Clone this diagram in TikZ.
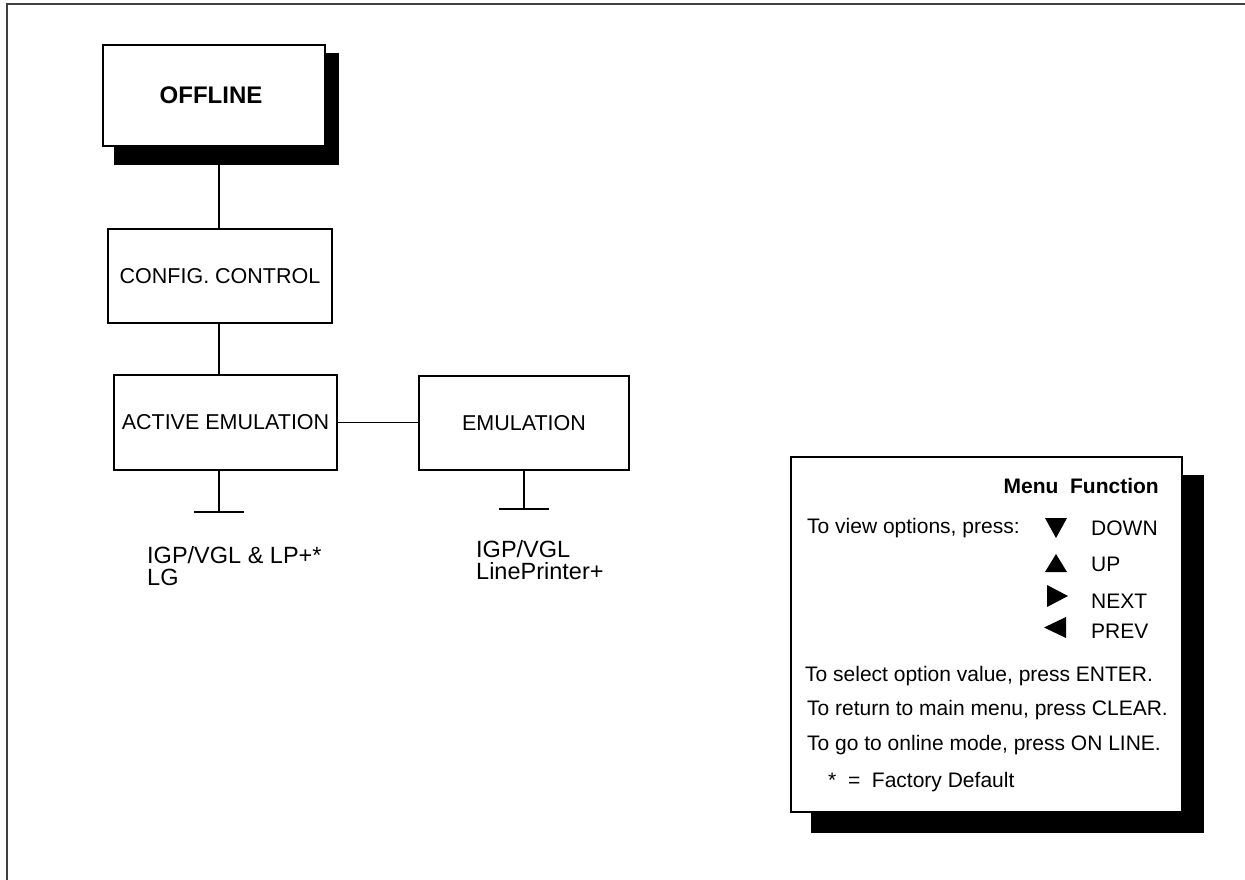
\documentclass[tikz,border=0pt]{standalone}
\usepackage{fontspec}
\setmainfont{Liberation Sans}
\begin{document}
\begin{tikzpicture}[x=1pt,y=-1pt,
  box/.style={draw, line width=1.1pt, fill=white, inner sep=0pt, font=\fontsize{21.5}{25}\selectfont},
  shadowbox/.style={fill=black, draw=none, inner sep=0pt},
  conn/.style={line width=1.1pt},
  lbl/.style={inner sep=0pt, font=\fontsize{21}{25}\selectfont},
  outtext/.style={inner sep=0pt, align=left, font=\fontsize{23.5}{22}\selectfont},
  tri/.style={fill=black}
  ]
\useasboundingbox (0,0) rectangle (1245,880);
% frame
\coordinate (fbl) at (6.5,880);
\coordinate (ftl) at (6.5,4.5);
\coordinate (ftr) at (1245,4.5);
\draw[line width=2pt, draw=black!75] (fbl) -- (ftl) -- (ftr);

% OFFLINE with shadow
\node[shadowbox, minimum width=225pt, minimum height=112pt] (offsh) at (226.5,109) {};
\node[box, minimum width=222pt, minimum height=101pt, font=\bfseries\fontsize{24}{28}\selectfont] (off) at (214,95.5) {\hspace*{-6pt}OFFLINE};

% tree boxes
\node[box, minimum width=224pt, minimum height=94pt] (cfg) at (220,276) {CONFIG. CONTROL};
\node[box, minimum width=223pt, minimum height=95pt] (act) at (225.5,422.5) {ACTIVE EMULATION};
\node[box, minimum width=210pt, minimum height=94pt] (emu) at (524,423) {EMULATION};

% connectors
\draw[conn] (cfg.north -| 219,0) -- (offsh.south -| 219,0);
\draw[conn] (cfg.south -| 219,0) -- (act.north -| 219,0);
\draw[conn] (act.east) -- (emu.west |- act.east);

\coordinate (actT) at (219,512);
\draw[conn] (act.south -| actT) -- (actT);
\draw[conn] ([xshift=-25pt]actT) -- ([xshift=25pt]actT);
\coordinate (emuT) at (524,509);
\draw[conn] (emu.south -| emuT) -- (emuT);
\draw[conn] ([xshift=-25pt]emuT) -- ([xshift=25pt]emuT);

% option texts (base = baseline of last line)
\node[outtext, anchor=base west] (actopt) at (147,585) {IGP/VGL \& LP+*\\LG};
\node[outtext, anchor=base west] (emuopt) at (476,579) {IGP/VGL\\LinePrinter+};

% legend
\node[shadowbox, minimum width=393pt, minimum height=358pt] (legsh) at (1007.5,654) {};
\node[box, minimum width=391pt, minimum height=355pt] (leg) at (986.5,634.5) {};

\node[lbl, anchor=base east, font=\bfseries\fontsize{21}{25}\selectfont] (lt) at (1159,493) {Menu\ \ Function};
\node[lbl, anchor=base west] (lv) at (807,533) {To view options, press:};
\node[lbl, anchor=base west] (ld) at (1091,535) {DOWN};
\node[lbl, anchor=base west] (lu) at (1091,571) {UP};
\node[lbl, anchor=base west] (ln) at (1091,608) {NEXT};
\node[lbl, anchor=base west] (lp) at (1091,638) {PREV};
\fill[tri] (1045,518) -- (1067,518) -- (1056,538) -- cycle;
\fill[tri] (1045,572) -- (1067,572) -- (1056,554) -- cycle;
\fill[tri] (1047,585) -- (1047,607) -- (1068,596) -- cycle;
\fill[tri] (1066,617) -- (1066,638) -- (1044,627.5) -- cycle;
\node[lbl, anchor=base west] (ls) at (805,681) {To select option value, press ENTER.};
\node[lbl, anchor=base west] (lr) at (807,715) {To return to main menu, press CLEAR.};
\node[lbl, anchor=base west] (lg) at (807,750) {To go to online mode, press ON LINE.};
\node[lbl, anchor=base west] (lf) at (828,787) {*\ \ =\ \ Factory Default};
\end{tikzpicture}
\end{document}
